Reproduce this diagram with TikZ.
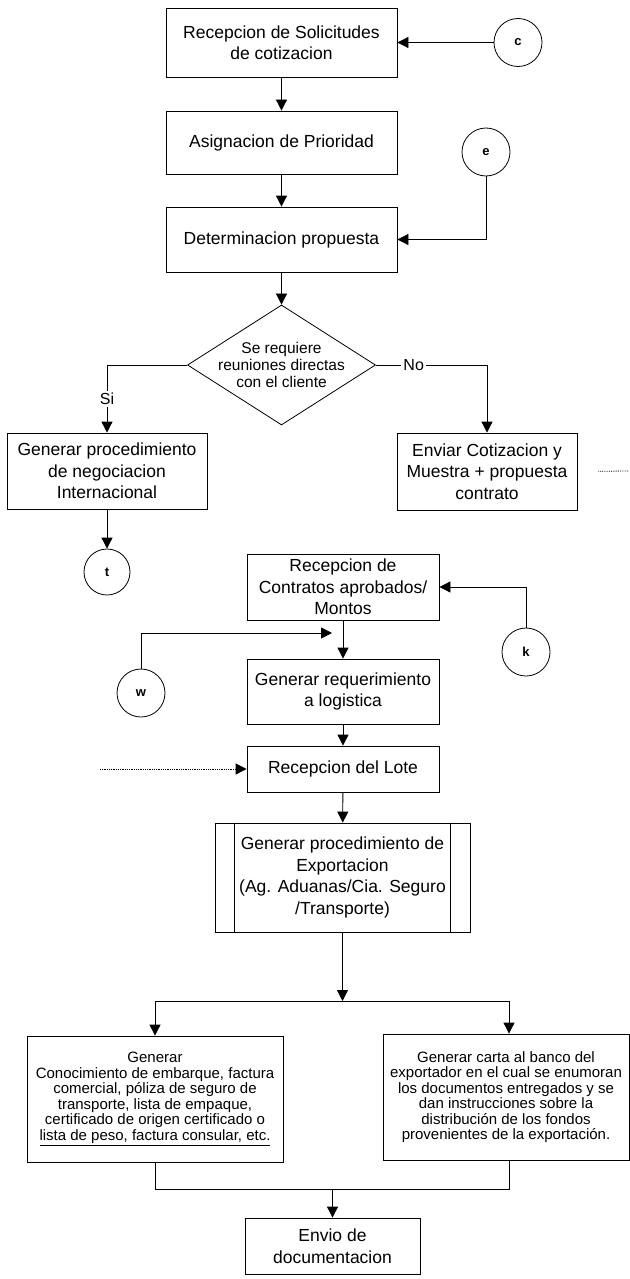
\documentclass[tikz,border=0pt]{standalone}
\usepackage{fontspec}
\setmainfont{Liberation Sans}
\usetikzlibrary{shapes.geometric,arrows.meta}

\begin{document}
\begin{tikzpicture}[x=1pt, y=-1pt, line width=0.8pt, >={Triangle[width=11pt,length=11pt]},
    main/.style = {draw, rectangle, align=center, inner sep=2pt, font=\fontsize{17.5}{21.5}\selectfont},
    doc/.style = {draw, rectangle, align=center, inner sep=2pt, font=\fontsize{15}{15.5}\selectfont},
    conn/.style = {draw, circle, minimum size=48pt, inner sep=0pt, font=\fontsize{13}{13}\selectfont\bfseries},
    lbl/.style = {fill=white, inner sep=2pt, font=\fontsize{16}{16}\selectfont}]
    \useasboundingbox (0,0) rectangle (629,1279);
    \node[main, minimum width=231pt, minimum height=69pt] (1) at (281.5,42.5) {Recepcion de Solicitudes\\de cotizacion};
    \node[main, minimum width=231pt, minimum height=63pt] (2) at (281.5,142.5) {Asignacion de Prioridad};
    \node[main, minimum width=231pt, minimum height=65pt] (3) at (281.5,239.5) {Determinacion propuesta};
    \node[conn] (c) at (518,42.5) {c};
    \node[conn] (e) at (486,152) {e};
    \node[draw, diamond, minimum width=188pt, minimum height=120pt, inner sep=0pt] (4) at (281.5,365) {};
    \node[align=center, font=\fontsize{15.5}{17}\selectfont] (4l) at (4) {Se requiere\\reuniones directas\\con el cliente};
    \node[main, minimum width=200pt, minimum height=76pt] (5) at (107,471) {Generar procedimiento\\de negociacion\\Internacional};
    \node[main, minimum width=180pt, minimum height=77pt] (6) at (487,471.5) {Enviar Cotizacion y\\Muestra + propuesta\\contrato};
    \coordinate (o6) at (628,471);
    \node[conn, minimum size=46pt] (t) at (107,572) {t};
    \node[main, minimum width=192pt, minimum height=66pt] (7) at (343,587) {Recepcion de\\Contratos aprobados/\\Montos};
    \node[main, minimum width=192pt, minimum height=65pt] (8) at (343,691.5) {Generar requerimiento\\a logistica};
    \node[main, minimum width=192pt, minimum height=46pt] (9) at (343,769) {Recepcion del Lote};
    \node[conn] (k) at (526,652) {k};
    \node[conn] (w) at (141,693) {w};
    \coordinate (wa) at (332,633);
    \coordinate (i9) at (100,769);
    \node[main, minimum width=255pt, minimum height=109pt] (10) at (342.5,877.5) {Generar procedimiento de\\Exportacion\\(Ag. Aduanas/Cia. Seguro\\/Transporte)};
    \coordinate (j) at (342.5,1001);
    \coordinate (jl) at (155,1001);
    \coordinate (jr) at (509,1001);
    \node[doc, minimum width=256pt, minimum height=126pt] (11) at (155,1099) {Generar\\Conocimiento de embarque, factura\\comercial, póliza de seguro de\\transporte, lista de empaque,\\certificado de origen certificado o\\\underline{lista de peso, factura consular, etc.}};
    \node[doc, minimum width=246pt, minimum height=126pt] (12) at (506,1097) {Generar carta al banco del\\exportador en el cual se enumoran\\los documentos entregados y se\\dan instrucciones sobre la\\distribución de los fondos\\provenientes de la exportación.};
    \coordinate (ml) at (155,1189);
    \coordinate (mr) at (509,1189);
    \coordinate (mj) at (332.5,1189);
    \node[main, minimum width=175pt, minimum height=56pt] (13) at (332.5,1246) {Envio de\\documentacion};

    \draw[->] (c) -- (1);
    \draw[->] (1) -- (2);
    \draw[->] (2) -- (3);
    \draw[->] (e) |- (3);
    \draw[->] (3) -- (4);
    \draw[->] (4.west) -| node[lbl, pos=0.75] (si) {Si} (5);
    \draw[->] (4.east) -| node[lbl, pos=0.17] (no) {No} (6);
    \draw[densely dotted, shorten <=21pt] (6.east) -- (o6);
    \draw[->] (5) -- (t);
    \draw[->] (k) |- (7);
    \draw[->] (w) |- (wa);
    \draw[->] (7) -- (8);
    \draw[->] (8) -- (9);
    \draw[densely dotted, ->] (i9) -- (9);
    \draw[->] (9) -- (10);
    \draw ([xshift=20pt]10.north west) -- ([xshift=20pt]10.south west);
    \draw ([xshift=-20pt]10.north east) -- ([xshift=-20pt]10.south east);
    \draw[->] (10) -- (j);
    \draw (jl) -- (jr);
    \draw[->] (jl) -- (11);
    \draw[->] (jr) -- (jr |- 12.north);
    \draw (11) -- (ml) -- (mr) -- (mr |- 12.south);
    \draw[->] (mj) -- (13);
\end{tikzpicture}
\end{document}
